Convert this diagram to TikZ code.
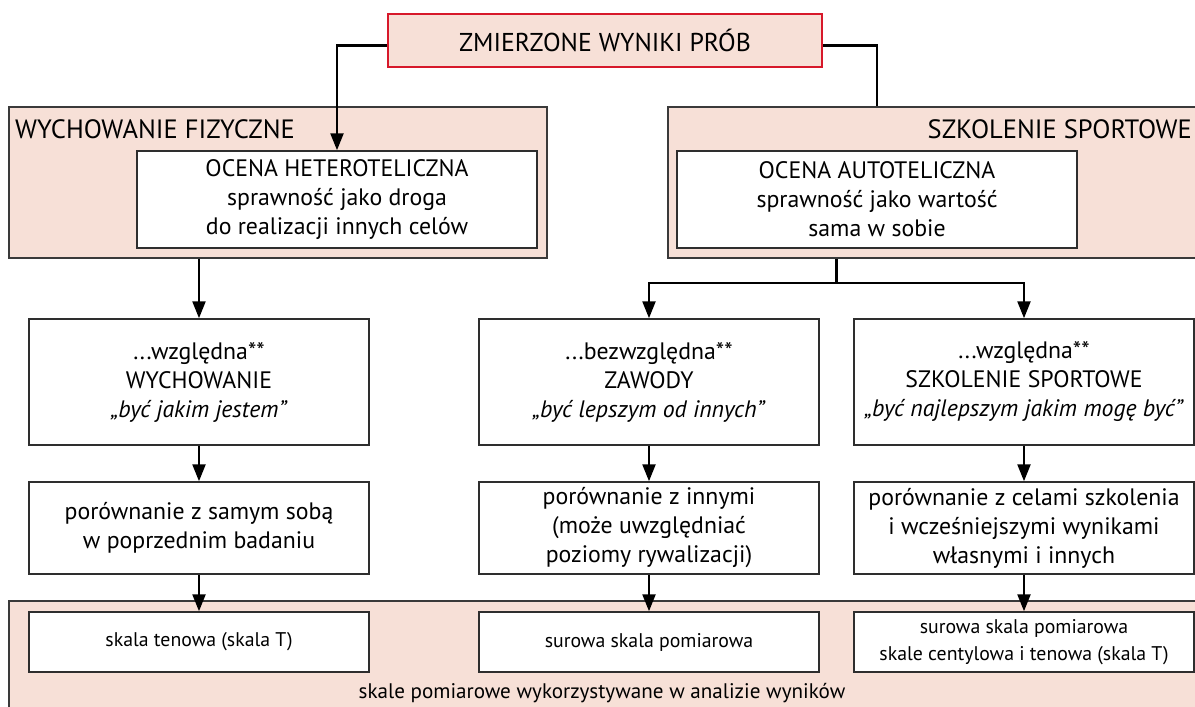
\documentclass[tikz,border=0pt]{standalone}
\usepackage{fontspec}
\setmainfont{PT Sans}
\usetikzlibrary{arrows.meta}
\definecolor{pinkc}{HTML}{F7E0D7}
\definecolor{redc}{HTML}{D7182A}
\definecolor{panelc}{HTML}{3A3A3A}
\definecolor{boxc}{HTML}{2E2E2E}
\newcommand{\mainfs}{\fontsize{23.8}{29}\selectfont}
\newcommand{\labfs}{\fontsize{26.5}{30}\selectfont}
\newcommand{\smallfs}{\fontsize{19.8}{26.5}\selectfont}
\newcommand{\capfs}{\fontsize{21.1}{24}\selectfont}
\tikzset{
  pnk/.style={fill=pinkc, draw=panelc, line width=1.2pt, inner sep=0pt},
  wbox/.style={fill=white, draw=boxc, line width=1.5pt, align=center, inner sep=0pt, font=\mainfs},
  sbox/.style={wbox, font=\smallfs},
  topbox/.style={fill=pinkc, draw=redc, line width=2.6pt, inner sep=0pt, font=\fontsize{25.8}{30}\selectfont},
  conn/.style={line width=2.4pt, black},
  arr/.style={conn, -{Triangle[length=17pt,width=13pt]}},
  plabel/.style={inner sep=0pt, font=\labfs},
}
\begin{document}
\begin{tikzpicture}[x=1pt,y=-1pt]
\clip (0,0) rectangle (1195,707);
\fill[white] (0,0) rectangle (1195,707);
% panels
\node[pnk, minimum width=538pt, minimum height=151pt] (lpanel) at (278,182.5) {};
\node[pnk, minimum width=540pt, minimum height=151pt] (rpanel) at (938,182.5) {};
\node[pnk, minimum width=1200pt, minimum height=120pt] (bpanel) at (609,661) {};
\node[plabel, anchor=west] (lpl) at (15,129) {WYCHOWANIE FIZYCZNE};
\node[plabel, anchor=east] (rpl) at (1192,129) {SZKOLENIE SPORTOWE};
% top
\node[topbox, minimum width=434pt, minimum height=53pt] (top) at (605,40.5) {ZMIERZONE WYNIKI PRÓB};
% inner boxes
\node[wbox, minimum width=400pt, minimum height=97pt] (het) at (337,199.5)
  {OCENA HETEROTELICZNA\\sprawność jako droga\\do realizacji innych celów};
\node[wbox, minimum width=400pt, minimum height=97pt] (aut) at (877,199.5)
  {OCENA AUTOTELICZNA\\sprawność jako wartość\\sama w sobie};
% row 2
\node[wbox, minimum width=340pt, minimum height=126pt] (r2a) at (199,382)
  {...względna**\\WYCHOWANIE\\\textit{„być jakim jestem”}};
\node[wbox, minimum width=340pt, minimum height=126pt] (r2b) at (649,382)
  {...bezwzględna**\\ZAWODY\\\textit{„być lepszym od innych”}};
\node[wbox, minimum width=340pt, minimum height=126pt] (r2c) at (1024,382)
  {...względna**\\SZKOLENIE SPORTOWE\\\textit{„być najlepszym jakim mogę być”}};
% row 3
\node[wbox, minimum width=340pt, minimum height=92pt] (r3a) at (199,528)
  {porównanie z samym sobą\\w poprzednim badaniu};
\node[wbox, minimum width=340pt, minimum height=92pt] (r3b) at (649,528)
  {porównanie z innymi\\(może uwzględniać\\poziomy rywalizacji)};
\node[wbox, minimum width=340pt, minimum height=92pt] (r3c) at (1024,528)
  {porównanie z celami szkolenia\\i wcześniejszymi wynikami\\własnymi i innych};
% row 4
\node[sbox, minimum width=340pt, minimum height=60pt] (r4a) at (199,642)
  {skala tenowa (skala T)};
\node[sbox, minimum width=340pt, minimum height=60pt] (r4b) at (649,642)
  {surowa skala pomiarowa};
\node[sbox, minimum width=340pt, minimum height=60pt] (r4c) at (1024,642)
  {surowa skala pomiarowa\\skale centylowa i tenowa (skala T)};
\node[inner sep=0pt, font=\capfs] (cap) at (602,693) {skale pomiarowe wykorzystywane w analizie wyników};
% connectors
\draw[arr] ([yshift=-5pt]top.west) -| (het.north);
\draw[conn] ([yshift=-5pt]top.east) -| (aut.north |- rpanel.north);
\draw[arr] (r2a.north |- lpanel.south) -- (r2a.north);
\coordinate (split) at (836.5,283);
\draw[conn] (split |- rpanel.south) -- (split);
\draw[arr] (split) -| (r2b.north);
\draw[arr] (split) -| (r2c.north);
\draw[arr] (r2a) -- (r3a);
\draw[arr] (r2b) -- (r3b);
\draw[arr] (r2c) -- (r3c);
\draw[arr] (r3a) -- (r4a);
\draw[arr] (r3b) -- (r4b);
\draw[arr] (r3c) -- (r4c);
\end{tikzpicture}
\end{document}
